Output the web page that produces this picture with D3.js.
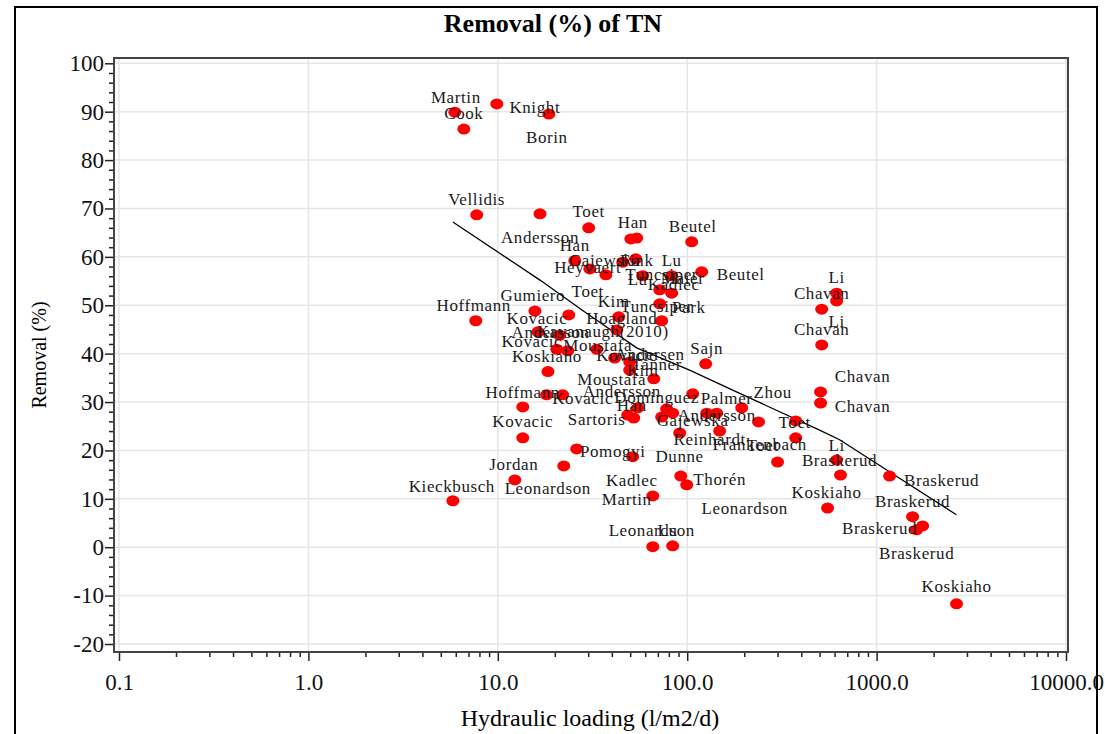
<!DOCTYPE html>
<html>
<head>
<meta charset="utf-8">
<script src="https://cdn.jsdelivr.net/npm/d3@7"></script>
<style>
  body { margin: 0; background: #fff; }
  text { font-family: "Liberation Serif", "Times New Roman", serif; }
</style>
</head>
<body>
<script>

// study names, hydraulic loading (l/m2/d) and TN removal (%)
var studies = ["Martin","Cook","Knight","Borin","Vellidis","Andersson","Toet","Han","Maier","Beutel",
  "Han","Heyvaert","Gajewska","Kavanaugh(2010)","Fink","Lu","Lu","Tuncsiper","Kadlec","Beutel",
  "Park","Tuncsiper","Toet","Kim","Hoagland","Gumiero","Hoffmann","Kovacic","Andersson","Kovacic",
  "Tanner","Koskiaho","Moustafa","Kovacic","Andersen","Kim","Moustafa","Sajn","Hoffmann","",
  "Kovacic","Kovacic","Pomogyi","Jordan","Leonardson","Kieckbusch","Sartoris","Han","Andersson","Dominguez",
  "Gajewska","","Palmer","Andersson","","Zhou","","Reinhardt","Leonardson","Toet",
  "Frankenbach","Toet","Li","Braskerud","Koskiaho","Braskerud","Braskerud","Braskerud","Braskerud","Koskiaho",
  "Dunne","Kadlec","Thorén","Martin","Leonardson","Lu","Li","Li","Chavan","Chavan",
  "Chavan","Chavan"];

var loading = [5.93,6.62,9.88,18.6,7.74,16.7,30.2,50.4,54.1,105.6,
  25.5,30.6,37.2,45.7,53.5,58.2,82.8,71.6,82.8,119.3,
  71.6,73.3,23.7,43.5,42.5,15.7,7.65,16.3,21.2,20.5,
  23.4,18.4,33.3,41.4,49.7,49.7,66.6,125.2,13.55,18.1,
  22.0,13.55,26.1,12.3,22.3,5.79,48.5,52.2,54.8,77.9,
  83.8,73.3,106.9,126.8,143.1,194,238,148.4,91.3,374,
  374,300,615,645,551,1171,1549,1750,1626,2642,
  51.5,92.5,99.4,65.8,65.8,83.8,615,615,513,513,
  506,506];

var removal = [89.9,86.4,91.6,89.5,68.7,68.9,66.0,63.7,63.9,63.1,
  59.2,57.5,56.3,58.9,59.6,56.1,56.1,53.2,52.5,56.9,
  50.3,46.8,48.0,47.6,44.9,48.8,46.8,44.5,43.8,40.9,
  40.6,36.3,40.9,39.1,38.3,36.6,34.8,37.9,29.0,31.5,
  31.5,22.6,20.3,13.9,16.8,9.6,27.3,26.7,28.8,28.6,
  27.7,26.9,31.7,27.7,27.7,28.8,25.9,24.0,23.6,26.1,
  22.6,17.6,18.0,14.9,8.1,14.7,6.3,4.4,3.6,-11.7,
  18.7,14.7,12.9,10.6,0.1,0.3,52.5,50.9,49.2,41.8,
  32.1,29.8];

// label offsets from the marker (px), picked to follow the original placement
var labelDx = [1,0,38,-2,0,0,0,2,46,1,
  0,-2,-1,-20,1,-5,0,2,2,39,
  29,-5,19,-5,5,-2,-2,-1,-9,-25,
  89,-1,1,12,20,13,-42,1,0,0,
  20,0,36,-1,-16,-1,-31,-2,-16,-10,
  20,0,34,10,0,31,0,-10,65,-1,
  -36,-15,0,-1,-1,52,0,-6,-37,0,
  47,-49,33,-26,-1,-5,0,0,0,0,
  42,42];
var labelDy = [-15,-16,4,23,-15,24,-16,-16,41,-15,
  -15,-1,-14,69,2,4,-15,-15,-9,3,
  4,-14,-23,-15,-11,-16,-15,-13,-3,-8,
  14,-15,-4,-3,-7,0,1,-15,-14,0,
  4,-16,3,-15,23,-14,4,-13,-16,-11,
  7,0,5,2,0,-15,0,8,75,2,
  7,-17,-15,-15,-16,4,-15,28,-1,-17,
  0,4,-5,4,-16,-15,-16,21,-16,-15,
  -15,3];

// fitted trend line
var trendX = [5.79,16.7,28.8,54.1,103,182,500,638,2640];
var trendY = [67.2,55.2,48.6,41.2,36.6,32.1,24.2,22.2,6.7];

var xMajor = [0.1,1,10,100,1000,10000];
var xTickLabels = ["0.1","1.0","10.0","100.0","1000.0","10000.0"];
var yTicks = [-20,-10,0,10,20,30,40,50,60,70,80,90,100];

var width = 1105, height = 734;

var svg = d3.select("body")
            .append("svg")
            .attr("width", width)
            .attr("height", height);

// outer frame
svg.append("rect")
   .attr("x", 15).attr("y", 7)
   .attr("width", 1082).attr("height", 740)
   .attr("fill", "none")
   .attr("stroke", "#000")
   .attr("stroke-width", 2);

var x = d3.scaleLog().domain([0.1, 10000]).range([119, 1066]);
var y = d3.scaleLinear().domain([-20, 100]).range([644, 63.3]);

var plotL = 114, plotR = 1068, plotT = 58, plotB = 652;

// grid
svg.append("g").selectAll("line")
   .data(yTicks)
   .enter().append("line")
   .attr("x1", plotL).attr("x2", plotR)
   .attr("y1", function(d) { return y(d); })
   .attr("y2", function(d) { return y(d); })
   .attr("stroke", "#e6e6e6")
   .attr("stroke-width", 1.5);

svg.append("g").selectAll("line")
   .data(xMajor)
   .enter().append("line")
   .attr("y1", plotT).attr("y2", plotB)
   .attr("x1", function(d) { return x(d); })
   .attr("x2", function(d) { return x(d); })
   .attr("stroke", "#e6e6e6")
   .attr("stroke-width", 1.5);

// x axis, minor ticks at 2..9 of every decade
var xAllTicks = [];
xMajor.forEach(function(m, i) {
  if (i < xMajor.length - 1) {
    for (var k = 1; k < 10; k++) xAllTicks.push(m * k);
  }
});
xAllTicks.push(10000);

var xAxis = d3.axisBottom(x)
              .tickValues(xAllTicks)
              .tickSizeOuter(0)
              .tickSize(8)
              .tickPadding(14)
              .tickFormat(function(d) {
                var i = xMajor.findIndex(function(m) { return Math.abs(m - d) < 1e-9; });
                return i >= 0 ? xTickLabels[i] : "";
              });

var gx = svg.append("g")
            .attr("transform", "translate(0," + plotB + ")")
            .call(xAxis);
gx.select(".domain").remove();
gx.selectAll(".tick line")
  .attr("stroke", "#222")
  .attr("stroke-width", 1.5)
  .attr("y2", function(d) {
    return xMajor.some(function(m) { return Math.abs(m - d) < 1e-9; }) ? 9 : 5;
  });
gx.selectAll("text")
  .attr("font-size", 23)
  .attr("fill", "#111");

// y axis, minor ticks every 2
var yAllTicks = d3.range(-20, 101, 2);
var yAxis = d3.axisLeft(y)
              .tickValues(yAllTicks)
              .tickSizeOuter(0)
              .tickPadding(3)
              .tickFormat(function(d) { return d % 10 === 0 ? d : ""; });

var gy = svg.append("g")
            .attr("transform", "translate(" + plotL + ",0)")
            .call(yAxis);
gy.select(".domain").remove();
gy.selectAll(".tick line")
  .attr("stroke", "#222")
  .attr("stroke-width", 1.5)
  .attr("x2", function(d) { return d % 10 === 0 ? -9 : -5; });
gy.selectAll("text")
  .attr("x", -10)
  .attr("font-size", 23)
  .attr("fill", "#111");

// plot frame
svg.append("rect")
   .attr("x", plotL).attr("y", plotT)
   .attr("width", plotR - plotL).attr("height", plotB - plotT)
   .attr("fill", "none")
   .attr("stroke", "#444")
   .attr("stroke-width", 2);

// trend line
var line = d3.line()
             .x(function(d, i) { return x(trendX[i]); })
             .y(function(d, i) { return y(trendY[i]); });

svg.append("path")
   .attr("d", line(trendX))
   .attr("fill", "none")
   .attr("stroke", "#000")
   .attr("stroke-width", 1.3);

// points
svg.append("g").selectAll("ellipse")
   .data(loading)
   .enter().append("ellipse")
   .attr("cx", function(d) { return x(d); })
   .attr("cy", function(d, i) { return y(removal[i]); })
   .attr("rx", 6.5)
   .attr("ry", 5.5)
   .attr("fill", "#ff0000");

// point labels
svg.append("g").selectAll("text")
   .data(studies)
   .enter().append("text")
   .attr("x", function(d, i) { return x(loading[i]) + labelDx[i]; })
   .attr("y", function(d, i) { return y(removal[i]) + labelDy[i]; })
   .attr("text-anchor", "middle")
   .attr("dominant-baseline", "central")
   .attr("font-size", 17)
   .attr("letter-spacing", 0.6)
   .attr("fill", "#1a1a1a")
   .text(function(d) { return d; });

// titles
svg.append("text")
   .attr("x", 553).attr("y", 32)
   .attr("text-anchor", "middle")
   .attr("font-size", 26)
   .attr("font-weight", "bold")
   .text("Removal (%) of TN");

svg.append("text")
   .attr("transform", "translate(46,355) rotate(-90)")
   .attr("text-anchor", "middle")
   .attr("font-size", 20)
   .text("Removal (%)");

svg.append("text")
   .attr("x", 590).attr("y", 726)
   .attr("text-anchor", "middle")
   .attr("font-size", 24)
   .text("Hydraulic loading (l/m2/d)");

</script>
</body>
</html>
